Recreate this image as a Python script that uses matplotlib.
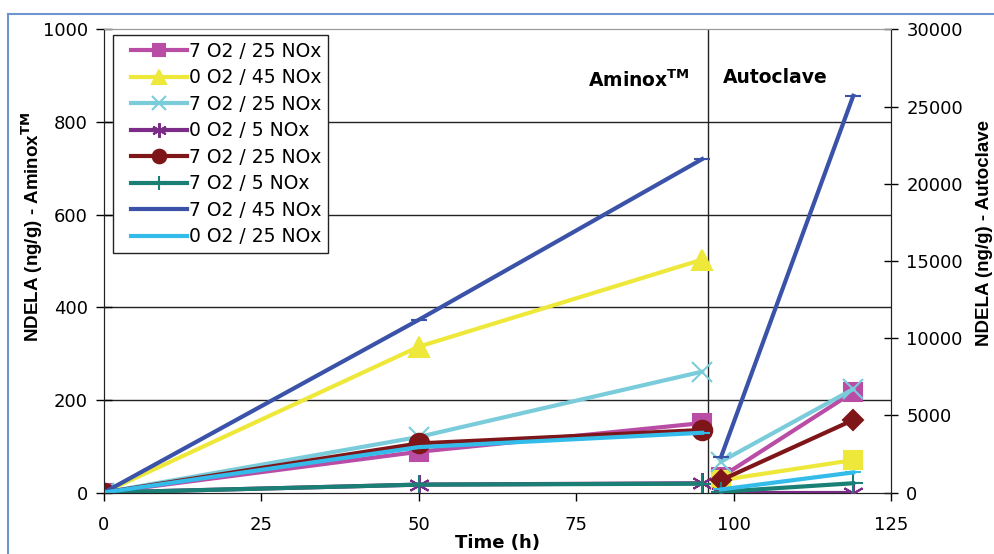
import matplotlib.pyplot as plt
from matplotlib.lines import Line2D
from matplotlib.legend_handler import HandlerLine2D

plt.rcParams['font.family'] = ['DejaVu Sans']
plt.rcParams['mathtext.fontset'] = 'dejavusans'

# Aminox runs (left axis, ng/g)
t_aminox = [0, 50, 95]
labels = ['7 O2 / 25 NOx', '0 O2 / 45 NOx', '7 O2 / 25 NOx', '0 O2 / 5 NOx',
          '7 O2 / 25 NOx', '7 O2 / 5 NOx', '7 O2 / 45 NOx', '0 O2 / 25 NOx']
aminox = [
    [0, 88, 150],
    [0, 315, 503],
    [0, 120, 261],
    [0, 17, 20],
    [0, 106, 135],
    [0, 17, 19],
    [0, 373, 720],
    [0, 98, 129],
]

# Autoclave runs (right axis, ng/g)
t_autoclave = [98, 119]
autoclave = [
    [1000, 6500],
    [800, 2100],
    [2000, 6700],
    [0, 0],
    [800, 4700],
    [50, 600],
    [2300, 25700],
    [200, 1300],
]

colors = ['#B94DA6', '#EEE83A', '#7ACCDB', '#7B2C86',
          '#7E1518', '#1A7F74', '#3A52A8', '#33BBEA']
asterisk = (6, 2, 0)
mk_aminox = ['s', '^', 'x', asterisk, 'o', '+', '_', '_']
mk_autoclave = ['s', 's', 'x', asterisk, 'D', '+', '_', '_']
ms_aminox = [13, 14, 14, 15, 14, 15, 12, 12]
ms_autoclave = [13, 13, 14, 15, 10, 15, 12, 12]

fig = plt.figure(figsize=(9.95, 5.54), dpi=100)
ax = fig.add_axes([0.1045, 0.111, 0.791, 0.8358])
ax2 = ax.twinx()

for i in range(len(labels)):
    ax.plot(t_aminox, aminox[i], color=colors[i], lw=3, marker=mk_aminox[i],
            ms=ms_aminox[i], mew=1.5, label=labels[i], zorder=3 + i)
    ax2.plot(t_autoclave, autoclave[i], color=colors[i], lw=3, marker=mk_autoclave[i],
             ms=ms_autoclave[i], mew=1.5, zorder=3 + i)

ax.set_xlim(0, 125)
ax.set_ylim(0, 1000)
ax2.set_ylim(0, 30000)
ax.set_xticks([0, 25, 50, 75, 100, 125])
ax.set_yticks([0, 200, 400, 600, 800, 1000])
ax2.set_yticks([0, 5000, 10000, 15000, 20000, 25000, 30000])

for y in [200, 400, 600, 800]:
    ax.axhline(y, color='#222222', lw=1.0, zorder=1)
ax.axvline(96, color='#222222', lw=1.0, zorder=1)

ax.tick_params(axis='x', direction='out', length=6, width=1, labelsize=13, pad=11)
ax.tick_params(axis='y', direction='inout', length=11, width=1, labelsize=13, pad=6)
ax2.tick_params(axis='y', direction='inout', length=10, width=1, labelsize=13, pad=6)

for a in (ax, ax2):
    a.spines['top'].set_color('#9A9A9A')
    for s in ('left', 'right', 'bottom'):
        a.spines[s].set_color('#222222')

# rotated titles use the narrower face
yfont = {'family': 'Liberation Sans', 'size': 13.5, 'weight': 'bold'}
ax.set_xlabel('Time (h)', fontsize=13, fontweight='bold')
ax.xaxis.set_label_coords(0.4994, -0.09)
ax.set_ylabel(r'NDELA (ng/g) - Aminox$^{\mathbf{TM}}$', fontdict=yfont)
ax.yaxis.set_label_coords(-0.075, 0.573)
ax2.set_ylabel('NDELA (ng/g) - Autoclave', fontdict=yfont)
ax2.yaxis.set_label_coords(1.108, 0.56)

ax.text(76.9, 876, r'Aminox$^{\mathbf{TM}}$', fontsize=13.5, fontweight='bold',
        ha='left', va='baseline')
ax.text(98.3, 884, 'Autoclave', fontsize=13.5, fontweight='bold',
        ha='left', va='baseline')

handler = HandlerLine2D(xpad=0.6)
leg = ax.legend(loc='upper left', bbox_to_anchor=(0.0114, 0.988), borderaxespad=0,
                fontsize=13.5, frameon=True, fancybox=False, edgecolor='#222222',
                framealpha=1, borderpad=0.35, labelspacing=0.4, handlelength=3.6,
                handletextpad=0.1, markerscale=0.7,
                handler_map={Line2D: handler})
leg.get_frame().set_linewidth(1.0)
leg.set_zorder(20)

# outer frame of the figure
fig.add_artist(Line2D([8 / 995, 8 / 995], [0, 1 - 14 / 554], transform=fig.transFigure,
                      color='#6E95CF', lw=1.5))
fig.add_artist(Line2D([8 / 995, 1], [1 - 14 / 554, 1 - 14 / 554], transform=fig.transFigure,
                      color='#6E95CF', lw=1.5))

fig.savefig('out.png', dpi=100)
